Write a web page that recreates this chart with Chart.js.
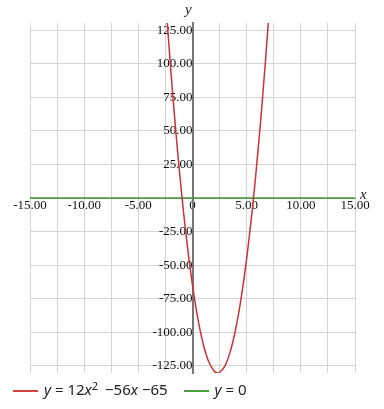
<!DOCTYPE html>
<html>
<head>
<meta charset="utf-8">
<script src="https://cdn.jsdelivr.net/npm/chart.js@4/dist/chart.umd.min.js"></script>
<style>
  body { margin: 0; background: #fff; }
  #wrap { position: relative; width: 384px; height: 409px; }
  .lbl { position: absolute; font-family: "Liberation Serif", serif; font-style: italic; font-size: 15px; color: #222; }
  #legend { position: absolute; left: 13px; top: 378px; font-family: "Noto Sans", sans-serif; font-size: 15px; line-height: 22px; color: #222; white-space: nowrap; }
  .item { display: inline-block; margin-right: 12px; }
  .swatch { display: inline-block; width: 25px; height: 2px; vertical-align: middle; margin-right: 6px; }
  i { font-style: italic; }
  sup { font-size: 11px; line-height: 0; vertical-align: 5px; margin-right: 3px; }
</style>
</head>
<body>
<div id="wrap">
  <canvas id="chart" width="384" height="409"></canvas>
  <div class="lbl" style="left:185px; top:1px;">y</div>
  <div class="lbl" style="left:360px; top:186px;">x</div>
  <div id="legend">
    <span class="item"><span class="swatch" style="background:#d04040"></span><i>y</i> = 12<i>x</i><sup>2</sup> &minus;56<i>x</i> &minus;65</span>
    <span class="item"><span class="swatch" style="background:#4a9e40"></span><i>y</i> = 0</span>
  </div>
</div>
<script>
// points
const curveX = [-2.5, -2, -1.5, -1, -0.5, 0, 0.5, 1, 1.5, 2, 2.33, 2.5, 3, 3.5, 4, 4.5, 5, 5.5, 6, 6.5, 7, 7.5];
const curveY = [150, 95, 46, 3, -34, -65, -90, -109, -122, -129, -130.3, -130, -125, -114, -97, -74, -45, -10, 31, 78, 131, 190];

// green line y = 0
const lineX = [-15, 15];
const lineY = [0, 0];

const xMin = -15, xMax = 15;
const yMin = -130.33, yMax = 130.33;

function toPoints(xs, ys) {
    return xs.map((x, i) => ({ x: x, y: ys[i] }));
}

const font = { family: "Liberation Serif", size: 13 };

new Chart(document.getElementById("chart"), {
    type: "scatter",
    data: {
        datasets: [{
            data: toPoints(curveX, curveY),
            showLine: true,
            borderColor: "#cc3333",
            borderWidth: 1.5,
            pointRadius: 0,
            tension: 0.4
        }, {
            data: toPoints(lineX, lineY),
            showLine: true,
            borderColor: "#3d9a3d",
            borderWidth: 1.5,
            pointRadius: 0
        }]
    },
    options: {
        responsive: false,
        animation: false,
        layout: { padding: { left: 30, right: 29, top: 23, bottom: 36 } },
        plugins: { legend: { display: false }, tooltip: { enabled: false } },
        scales: {
            x: {
                type: "linear",
                min: xMin, max: xMax,
                position: { y: 0 },
                grid: { color: "#d4d4d4", drawTicks: false },
                border: { color: "#999", width: 1 },
                ticks: {
                    stepSize: 2.5,
                    padding: 0,
                    maxRotation: 0,
                    autoSkip: false,
                    color: "#111",
                    font: font,
                    callback: v => v % 5 !== 0 ? "" : (v === 0 ? "0" : v.toFixed(2))
                }
            },
            y: {
                type: "linear",
                min: yMin, max: yMax,
                position: { x: 0 },
                grid: { color: "#d4d4d4", drawTicks: false },
                border: { color: "#777", width: 2 },
                ticks: {
                    stepSize: 25,
                    includeBounds: false,
                    padding: 1,
                    autoSkip: false,
                    color: "#111",
                    font: font,
                    callback: v => v === 0 ? "" : v.toFixed(2)
                }
            }
        }
    }
});
</script>
</body>
</html>
